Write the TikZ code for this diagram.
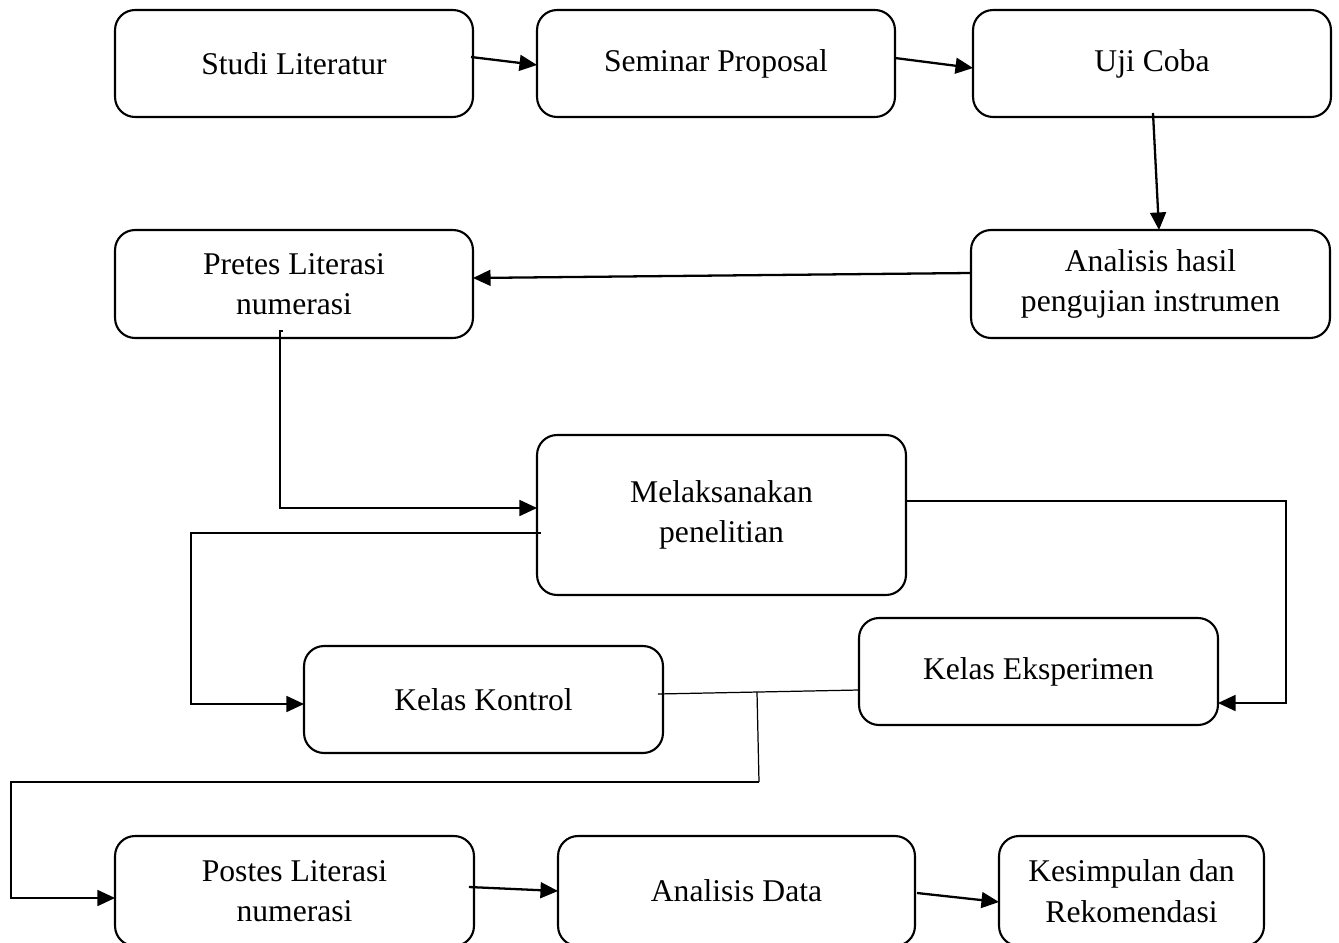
\documentclass[tikz,border=0pt]{standalone}
\usepackage{fontspec}
\setmainfont{Liberation Serif}
\usetikzlibrary{arrows.meta}

\begin{document}
\begin{tikzpicture}[x=0.02cm, y=-0.02cm,
	box/.style={draw, line width=1.2pt, rounded corners=0.4cm, align=center, inner sep=0pt, outer sep=0pt, minimum height=2.14cm, font=\fontsize{18}{23}\selectfont},
	arr/.style={line width=1.3pt, -{Triangle[length=10pt, width=9pt]}},
	link/.style={line width=0.7pt}]
	\useasboundingbox (0,0) rectangle (1339,943);
	
	\node[box, minimum width=7.16cm] (studi) at (294,63.5) {Studi Literatur};
	\node[box, minimum width=7.16cm] (seminar) at (716,63.5) {Seminar Proposal};
	\node[box, minimum width=7.16cm] (uji) at (1152,63.5) {Uji Coba};
	\node[box, minimum width=7.18cm, minimum height=2.16cm] (hasil) at (1150.5,284) {Analisis hasil\\pengujian instrumen};
	\node[box, minimum width=7.16cm, minimum height=2.16cm] (pretes) at (294,284) {Pretes Literasi\\numerasi};
	\node[box, minimum width=7.38cm, minimum height=3.2cm] (penelitian) at (721.5,515) {Melaksanakan\\penelitian};
	\node[box, minimum width=7.18cm] (kontrol) at (483.5,699.5) {Kelas Kontrol};
	\node[box, minimum width=7.18cm] (eksperimen) at (1038.5,671.5) {Kelas Eksperimen};
	\node[box, minimum width=7.18cm, minimum height=2.2cm] (postes) at (294.5,891) {Postes Literasi\\numerasi};
	\node[box, minimum width=7.14cm, minimum height=2.2cm] (data) at (736.5,891) {Analisis Data};
	\node[box, minimum width=5.3cm, minimum height=2.2cm] (kesimpulan) at (1131.5,891) {Kesimpulan dan\\Rekomendasi};
	
	\draw[arr] ([shift={(-2,-6.5)}]studi.east) -- ([shift={(0,1.5)}]seminar.west);
	\draw[arr] ([shift={(0,-5.5)}]seminar.east) -- ([shift={(0,4.5)}]uji.west);
	\draw[arr] ([shift={(1,-4)}]uji.south) -- ([shift={(8.5,0)}]hasil.north);
	\draw[arr] ([shift={(0,-11)}]hasil.west) -- ([shift={(0,-6)}]pretes.east);
	\draw[arr] ([shift={(-11,-7)}]pretes.south) -- ++(-3,0) |- ([shift={(0,-7)}]penelitian.west);
	\draw[arr] ([shift={(4,18)}]penelitian.west) -- ++(-350,0) |- ([shift={(0,4.5)}]kontrol.west);
	\draw[arr] ([shift={(0,-14)}]penelitian.east) -- ++(380,0) |- ([shift={(0,31.5)}]eksperimen.east);
	
	\coordinate (gabung) at (757,692);
	\coordinate (turun) at (759,782);
	\draw[link] ([shift={(-5,-5.5)}]kontrol.east) -- ([shift={(0,18.5)}]eksperimen.west);
	\draw[link] (gabung) -- (turun);
	\draw[arr] (turun) -- ++(-748,0) |- ([shift={(0,7)}]postes.west);
	
	\draw[arr] ([shift={(-5,-4)}]postes.east) -- (data.west);
	\draw[arr] ([shift={(2,2)}]data.east) -- ([shift={(0,11)}]kesimpulan.west);
\end{tikzpicture}
\end{document}
